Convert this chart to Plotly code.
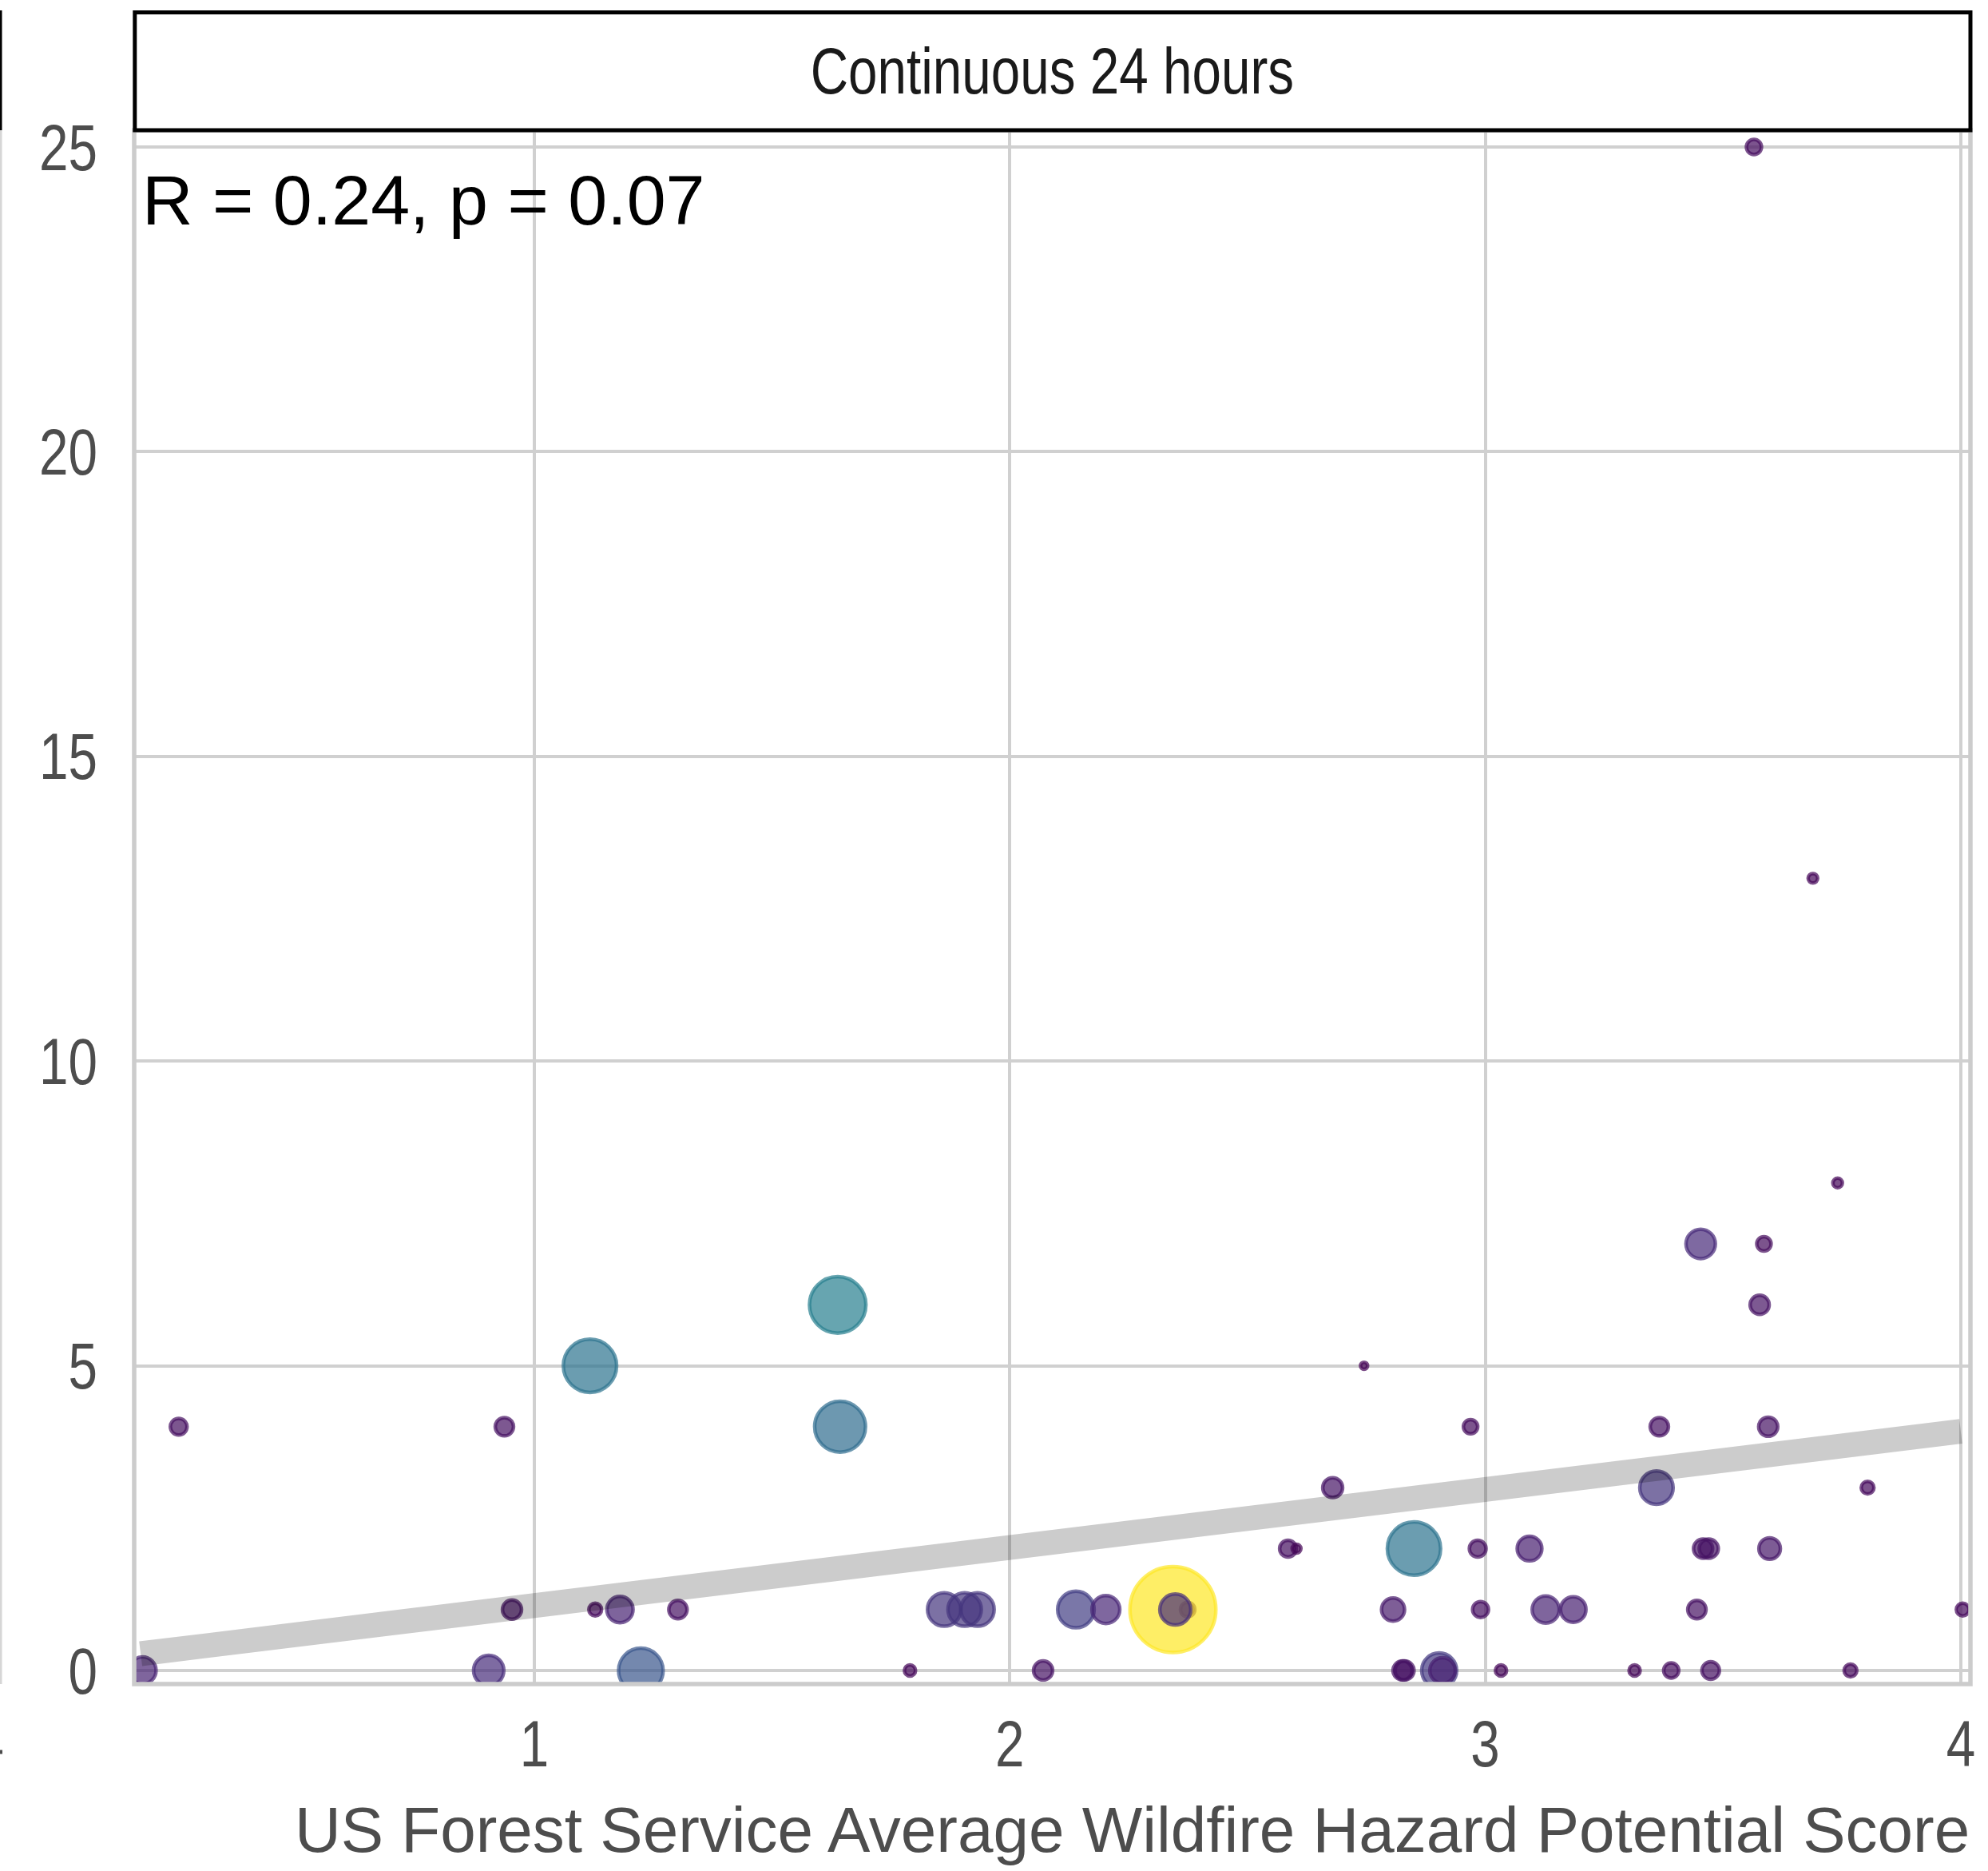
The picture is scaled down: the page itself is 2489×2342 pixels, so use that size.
import plotly.graph_objects as go
from plotly.colors import sample_colorscale, unlabel_rgb

# ---- data ----
hazard_score = [0.176, 0.252, 0.904, 0.937, 0.953, 1.117, 1.128, 1.180, 1.224, 1.302,
                1.638, 1.643, 1.790, 1.862, 1.905, 1.932, 2.070, 2.139, 2.202, 2.374,
                2.343, 2.348, 2.585, 2.603, 2.679, 2.745, 2.806, 2.826, 2.830, 2.850,
                2.903, 2.910, 2.969, 2.984, 2.990, 3.033, 3.093, 3.127, 3.185, 3.314,
                3.360, 3.366, 3.391, 3.445, 3.453, 3.458, 3.470, 3.474, 3.565, 3.577,
                3.586, 3.595, 3.598, 3.689, 3.741, 3.768, 3.804, 4.004]
count_24h = [0, 4, 0, 4, 1, 5, 1, 1, 0, 1,
             6, 4, 0, 1, 1, 1, 0, 1, 1, 1,
             1, 1, 2, 2, 3, 5, 1, 0, 0, 2,
             0, 0, 4, 2, 1, 0, 2, 1, 1, 0,
             3, 4, 0, 1, 7, 2, 2, 0, 25, 6,
             7, 4, 2, 13, 8, 0, 3, 1]
weight = [9.91, 3.78, 12.4, 4.54, 4.94, 38.5, 2.19, 9.34, 26.9, 4.54,
          43.2, 35.1, 1.68, 15.1, 15.1, 15.1, 4.94, 18.1, 10.5, 2.78,
          100.0, 13.0, 3.78, 1.04, 5.36, 0.69, 7.21, 4.94, 4.94, 38.5,
          16.6, 8.78, 2.78, 3.78, 3.43, 1.68, 8.24, 9.91, 8.78, 1.68,
          15.1, 4.54, 3.09, 4.54, 11.7, 4.94, 4.94, 4.15, 3.09, 4.94,
          2.78, 4.94, 6.25, 1.23, 1.23, 2.19, 2.19, 2.19]

fit_x = [0.172, 4.0]
fit_y = [0.275, 3.924]

x_ticks = [1, 2, 3, 4]
y_ticks = [0, 5, 10, 15, 20, 25]

strip_label = "Continuous 24 hours"
stat_label = "R = 0.24, p = 0.07"
x_title = "US Forest Service Average Wildfire Hazard Potential Score"

# ---- styling ----
FONT = "Liberation Sans, Arial, sans-serif"
ALPHA = 0.7
W, H = 2489, 2342
L, R, T, B = 168, 22, 163, 234
PW, PH = W - L - R, H - T - B


def px_x(p):
    return (p - L) / PW


def px_y(p):
    return (H - B - p) / PH


wmax = max(weight)
base_cols = sample_colorscale("Viridis", [w / wmax for w in weight], colortype="rgb")
point_cols = []
for c in base_cols:
    r, g, b = unlabel_rgb(c)
    point_cols.append(f"rgba({round(r)},{round(g)},{round(b)},{ALPHA})")

GRID = "#D0D0D0"
fig = go.Figure()
fig.add_trace(go.Scatter(
    x=hazard_score, y=count_24h, mode="markers",
    marker=dict(
        size=weight, sizemode="area", sizeref=2 * wmax / (107.5 ** 2),
        opacity=1,
        color=point_cols,
        line=dict(width=4.5, color=point_cols),
    ),
    showlegend=False, hoverinfo="x+y",
))
fig.add_trace(go.Scatter(
    x=fit_x, y=fit_y, mode="lines",
    line=dict(color="rgba(0,0,0,0.2)", width=31),
    showlegend=False, hoverinfo="skip",
))

fig.update_layout(
    width=W, height=H,
    margin=dict(l=L, r=R, t=T, b=B, pad=0),
    paper_bgcolor="white", plot_bgcolor="white",
    xaxis=dict(range=[0.1584, 4.0203], tickvals=x_ticks, ticktext=[str(v) for v in x_ticks],
               showgrid=True, gridcolor=GRID, gridwidth=4, zeroline=False, showline=False,
               ticks="", tickfont=dict(family=FONT, size=82, color="#4D4D4D"),
               ticklabelstandoff=20),
    yaxis=dict(range=[-0.223, 25.275], tickvals=y_ticks, ticktext=[str(v) for v in y_ticks],
               showgrid=True, gridcolor=GRID, gridwidth=4, zeroline=False, showline=False,
               ticks="", tickfont=dict(family=FONT, size=82, color="#4D4D4D"),
               ticklabelstandoff=45),
    shapes=[
        dict(type="rect", xref="paper", yref="paper", x0=0, x1=1, y0=0, y1=1,
             line=dict(color="#CCCCCC", width=5.5), layer="above"),
        dict(type="rect", xref="paper", yref="paper", x0=px_x(168.8), x1=px_x(2467),
             y0=px_y(163), y1=px_y(15.5), fillcolor="white",
             line=dict(color="black", width=5), layer="above"),
        dict(type="line", xref="paper", yref="paper", x0=px_x(1), x1=px_x(1),
             y0=px_y(13), y1=px_y(163), line=dict(color="black", width=3)),
        dict(type="line", xref="paper", yref="paper", x0=px_x(1), x1=px_x(1),
             y0=px_y(163), y1=px_y(2108), line=dict(color="#D6D6D6", width=3)),
        dict(type="line", xref="paper", yref="paper", x0=px_x(0), x1=px_x(3),
             y0=px_y(2193), y1=px_y(2193), line=dict(color="#4D4D4D", width=5)),
    ],
    annotations=[
        dict(text=strip_label, xref="paper", yref="paper", x=0.5, y=px_y(88.5),
             xanchor="center", yanchor="middle", showarrow=False,
             font=dict(family=FONT, size=82, color="#1A1A1A")),
        dict(text=stat_label, xref="paper", yref="paper", x=px_x(176), y=px_y(250),
             xanchor="left", yanchor="middle", showarrow=False,
             font=dict(family=FONT, size=88, color="black")),
        dict(text=x_title, xref="paper", yref="paper", x=px_x(1417), y=px_y(2290),
             xanchor="center", yanchor="middle", showarrow=False,
             font=dict(family=FONT, size=80, color="#4D4D4D")),
    ],
)

# The reference uses a condensed sans face for the ticks and the strip label; no condensed
# face is installed, so the regular face is narrowed with SVG textLength after drawing.
post = """
document.body.style.margin = '0';
var gd = document.getElementById('{plot_id}');
function squeeze() {
  var nodes = gd.querySelectorAll('.xtick text, .ytick text, .annotation-text');
  nodes.forEach(function (t) {
    if (t.getAttribute('data-sq')) return;
    var txt = t.textContent;
    if (txt.indexOf('R =') === 0 || txt.indexOf('US Forest') === 0) return;
    var w = t.getComputedTextLength();
    if (!w) return;
    var nw = w * 0.8;
    t.setAttribute('textLength', nw.toFixed(2));
    t.setAttribute('lengthAdjust', 'spacingAndGlyphs');
    t.setAttribute('data-sq', '1');
    var bg = t.parentNode && t.parentNode.querySelector('rect.bg');
    if (bg) {
      var bw = parseFloat(bg.getAttribute('width')) || 0;
      var bx = parseFloat(bg.getAttribute('x')) || 0;
      var d = w - nw;
      bg.setAttribute('width', Math.max(bw - d, 0).toFixed(2));
      bg.setAttribute('x', (bx + d / 2).toFixed(2));
    }
  });
}
squeeze();
if (gd.on) gd.on('plotly_afterplot', squeeze);
setTimeout(squeeze, 50);
"""

fig.write_html("out.html", post_script=post, config={"displayModeBar": False})
